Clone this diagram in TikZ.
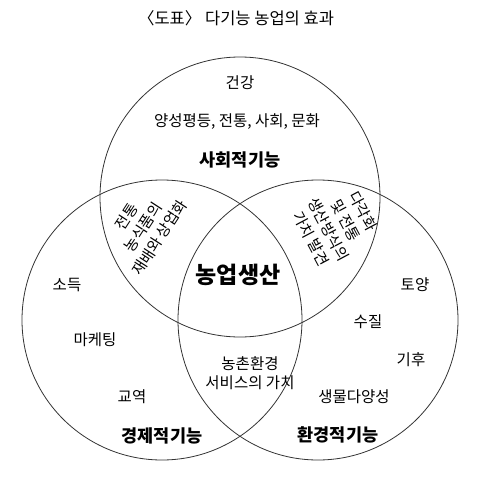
\documentclass[tikz,border=0pt]{standalone}
\usepackage{fontspec}
\setmainfont{Noto Sans CJK KR}
\begin{document}
\begin{tikzpicture}[x=1pt,y=-1pt,
  ring/.style={draw=black!80, line width=0.8pt, circle, inner sep=0, minimum size=280pt},
  lbl/.style={font=\fontsize{15.5}{19}\selectfont, inner sep=0, align=center},
  head/.style={font=\bfseries\fontsize{17.5}{20}\selectfont, inner sep=0},
  rot/.style={font=\fontsize{15}{19.5}\selectfont, align=center, inner sep=0}]
\useasboundingbox (0,0) rectangle (479,480);
\node[font=\fontsize{16.5}{19}\selectfont, inner sep=0] (title) at (236,18) {〈도표〉 다기능 농업의 효과};
\node[ring] (soc) at (240,197) {};
\node[ring] (eco) at (162,320) {};
\node[ring] (env) at (318,320) {};
\node[lbl] (t1) at (240,83) {건강};
\node[lbl] (t2) at (237,122) {양성평등, 전통, 사회, 문화};
\node[head] (h1) at (240,160) {사회적기능};
\node[font=\bfseries\fontsize{23}{25}\selectfont, inner sep=0] (core) at (238,275) {농업생산};
\node[lbl] (e1) at (67,285) {소득};
\node[lbl] (e2) at (95,340) {마케팅};
\node[lbl] (e3) at (132,397) {교역};
\node[head] (h2) at (162,436) {경제적기능};
\node[lbl] (v1) at (415,285) {토양};
\node[lbl] (v2) at (368,322) {수질};
\node[lbl] (v3) at (411,360) {기후};
\node[lbl] (v4) at (354,397) {생물다양성};
\node[head] (h3) at (338,435) {환경적기능};
\node[lbl] (m1) at (250,373) {농촌환경\\서비스의 가치};
\node[rot, rotate=57] (l1) at (143,227) {전통\\농식품의\\재배와 상업화};
\node[rot, rotate=-62] (r1) at (337,225) {다각화\\및 전통\\생산방식의\\가치 발견};
\end{tikzpicture}
\end{document}
